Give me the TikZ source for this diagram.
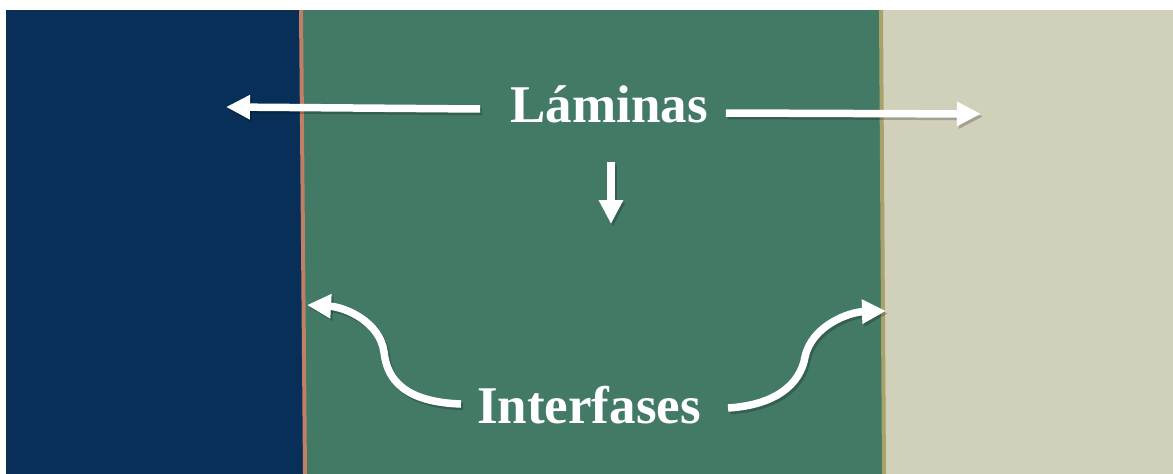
\documentclass[tikz,border=0pt]{standalone}
\usepackage{fontspec}
\setmainfont{Liberation Serif}
\usetikzlibrary{arrows.meta,calc}
\definecolor{navy}{HTML}{082F57}
\definecolor{lgreen}{HTML}{427A66}
\definecolor{beige}{HTML}{D1D0BB}
\definecolor{salmon}{HTML}{C17F66}
\definecolor{olive}{HTML}{A9A26A}
\tikzset{
  lbl/.style={text=white,font=\fontsize{53}{60}\selectfont\bfseries,inner sep=0pt,anchor=base},
  warrow/.style={draw=white,line width=7.5pt,-{Triangle[length=24pt,width=23pt]},
    preaction={draw=black,opacity=0.22,line width=7.5pt,-{Triangle[length=24pt,width=23pt]},transform canvas={xshift=2pt,yshift=-2.5pt}}},
}
\begin{document}
\begin{tikzpicture}[x=1pt,y=-1pt]
\useasboundingbox (0,0) rectangle (1173,474);
\fill[white] (0,0) rectangle (1173,474);
% panels
\fill[navy] (6,10) -- (301,10) -- (305,474) -- (6,474) -- cycle;
\fill[lgreen] (301,10) -- (881,10) -- (884,474) -- (305,474) -- cycle;
\fill[beige] (881,10) -- (1173,10) -- (1173,474) -- (884,474) -- cycle;
% interfaces
\draw[salmon,line width=4pt] (301,10) -- (305,474);
\draw[olive,line width=4pt] (881,10) -- (884,474);
% labels
\node[lbl] (lam) at (609,122) {Láminas};
\node[lbl] (inter) at (589,423) {Interfases};
% arrow targets
\coordinate (tipL) at (226,107);
\coordinate (tipR) at (981,114);
\coordinate (tipD) at (611,224);
\coordinate (ifL) at (307,305);
\coordinate (ifR) at (886,311);
% arrows
\draw[warrow] ($(lam.base west)+(-30,-13)$) -- (tipL);
\draw[warrow] ($(lam.base east)+(18,-9)$) -- (tipR);
\draw[warrow] ($(lam.base)+(2,40)$) -- (tipD);
\draw[warrow] ($(inter.base west)+(-16,-19)$) .. controls (405,402) and (387,380) .. (384,352)
  .. controls (380,322) and (345,307) .. (ifL);
\draw[warrow] ($(inter.base east)+(27,-15)$) .. controls (775,405) and (800,385) .. (805,357)
  .. controls (812,325) and (850,312) .. (ifR);
\end{tikzpicture}
\end{document}
